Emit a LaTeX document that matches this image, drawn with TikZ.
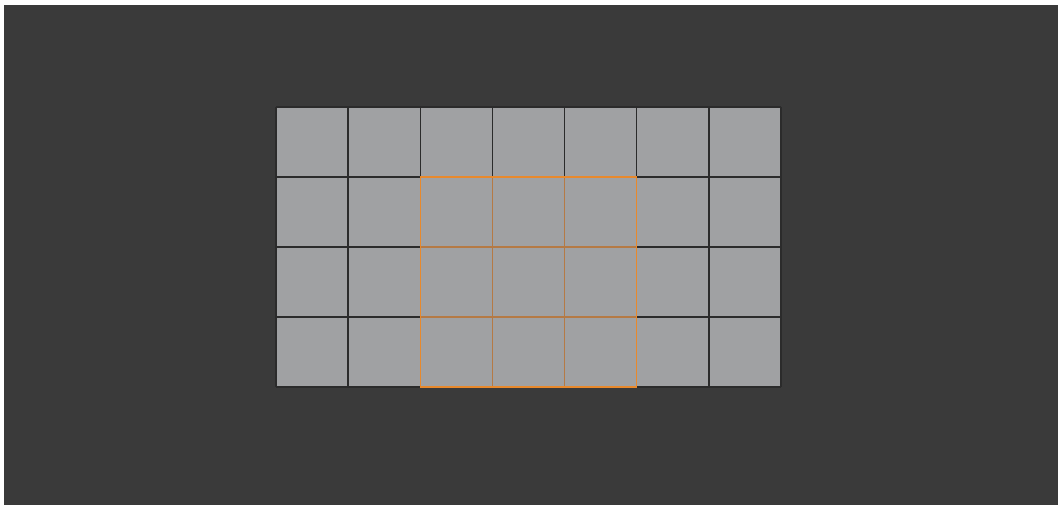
\documentclass[tikz,border=0pt]{standalone}
\definecolor{bgdark}{HTML}{3A3A3A}
\definecolor{facegray}{HTML}{A0A1A3}
\definecolor{edgedark}{HTML}{2B2B2B}
\definecolor{selorange}{HTML}{E8892C}
\definecolor{selinner}{HTML}{B57A45}
\tikzset{
  gridedge/.style={draw=edgedark, line width=1.3pt},
  innersel/.style={draw=selinner, line width=1.1pt},
  outersel/.style={draw=selorange, line width=1.5pt},
}
\begin{document}
\begin{tikzpicture}[x=1pt,y=-1pt]
\useasboundingbox (0,0) rectangle (1059,505);
\fill[white] (0,0) rectangle (1059,505);
\fill[bgdark] (4,5) rectangle (1058,505);
% mesh faces
\fill[facegray] (276,107) rectangle (781,387);
% grid lines
\foreach \x in {276,348.1,420.3,492.4,564.6,636.7,708.9,781} {
  \draw[gridedge] (\x,107) -- (\x,387);
}
\foreach \y in {107,177,247,317,387} {
  \draw[gridedge] (276,\y) -- (781,\y);
}
% selection inner edges
\draw[innersel] (492.4,177) -- (492.4,387);
\draw[innersel] (564.6,177) -- (564.6,387);
\draw[innersel] (420.3,247) -- (636.7,247);
\draw[innersel] (420.3,317) -- (636.7,317);
% selection outline
\coordinate (selA) at (420.3,177);
\coordinate (selB) at (636.7,387);
\draw[outersel] (selA) rectangle (selB);
\end{tikzpicture}
\end{document}
